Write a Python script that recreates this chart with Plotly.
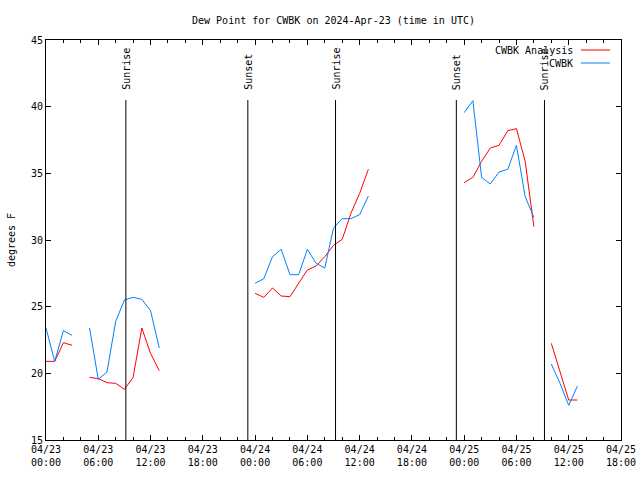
import plotly.graph_objects as go
import pandas as pd

# ---- data (hourly, hours since 2024-04-23 00:00 UTC) ----
hours = list(range(62))
analysis = [20.9, 20.9, 22.3, 22.1, None, 19.7, 19.6, 19.3, 19.25, 18.8,
            19.7, 23.4, 21.5, 20.2, None, None, None, None, None, None,
            None, None, None, None, 26.0, 25.7, 26.4, 25.8, 25.75, 26.8,
            27.75, 28.05, 28.75, 29.6, 30.05, 32.0, 33.5, 35.3, None, None,
            None, None, None, None, None, None, None, None, 34.3, 34.7,
            35.9, 36.9, 37.1, 38.2, 38.35, 35.9, 31.0, None, 22.25, 20.1,
            18.0, 18.0]
observed = [23.4, 20.9, 23.2, 22.85, None, 23.4, 19.55, 20.1, 23.9, 25.5,
            25.7, 25.55, 24.7, 21.9, None, None, None, None, None, None,
            None, None, None, None, 26.75, 27.1, 28.75, 29.3, 27.4, 27.4,
            29.3, 28.25, 27.9, 30.9, 31.6, 31.6, 31.9, 33.3, None, None,
            None, None, None, None, None, None, None, None, 39.55, 40.45,
            34.7, 34.2, 35.1, 35.3, 37.1, 33.25, 31.7, None, 20.7, 19.25,
            17.6, 19.05]
series_names = ["CWBK Analysis", "CWBK"]
series_colors = ["#ff0000", "#0080ff"]

sun_times = ["2024-04-23 09:10", "2024-04-23 23:10", "2024-04-24 09:14",
             "2024-04-24 23:06", "2024-04-25 09:13"]
sun_labels = ["Sunrise", "Sunset", "Sunrise", "Sunset", "Sunrise"]

tick_times = pd.date_range("2024-04-23 00:00", "2024-04-25 18:00", freq="6h")
tick_text = [t.strftime("%m/%d<br>%H:%M") for t in tick_times]
y_ticks = [15, 20, 25, 30, 35, 40, 45]

base = pd.Timestamp("2024-04-23 00:00")
times = [base + pd.Timedelta(hours=h) for h in hours]

FONT = "DejaVu Sans Mono"

fig = go.Figure()
for vals, name, col in zip([analysis, observed], series_names, series_colors):
    fig.add_trace(go.Scatter(x=times, y=vals, mode="lines", name=name,
                             line=dict(color=col, width=1), connectgaps=False,
                             showlegend=False))

for t, lab in zip(sun_times, sun_labels):
    fig.add_shape(type="line", xref="x", yref="y", x0=t, x1=t, y0=15, y1=40.5,
                  line=dict(color="black", width=1))
    fig.add_annotation(x=t, xref="x", y=0.87, yref="paper", text=lab,
                       textangle=-90, showarrow=False, xanchor="center",
                       yanchor="bottom", font=dict(family=FONT, size=10, color="black"))

# custom legend (text right, sample line on the right)
leg_y = [0.975, 0.9425]
for name, col, ly in zip(series_names, series_colors, leg_y):
    fig.add_annotation(x=0.92, xref="paper", y=ly, yref="paper", text=name,
                       showarrow=False, xanchor="right", yanchor="middle",
                       font=dict(family=FONT, size=10, color="black"))
    fig.add_shape(type="line", xref="paper", yref="paper", x0=0.9304, x1=0.9809,
                  y0=ly, y1=ly, line=dict(color=col, width=1))

fig.update_layout(
    template="none",
    width=640, height=480, autosize=False,
    margin=dict(l=46, r=19, t=40, b=40),
    paper_bgcolor="white", plot_bgcolor="white",
    font=dict(family=FONT, size=10, color="black"),
    title=dict(text="Dew Point for CWBK on 2024-Apr-23 (time in UTC)",
               x=0.5, xref="paper", y=0.958, yanchor="middle",
               font=dict(family=FONT, size=10, color="black")),
    showlegend=False,
)
fig.update_xaxes(
    type="date", range=[tick_times[0], tick_times[-1]], automargin=False,
    tickmode="array", tickvals=tick_times, ticktext=tick_text,
    ticks="inside", ticklen=5, tickcolor="black", mirror="allticks",
    showline=True, linecolor="black", linewidth=1, showgrid=False, zeroline=False,
    minor=dict(ticks="inside", ticklen=3, dtick=2 * 3600 * 1000, tickcolor="black",
               showgrid=False),
    tickfont=dict(family=FONT, size=10),
)
fig.update_yaxes(
    range=[15, 45], tickmode="array", tickvals=y_ticks, automargin=False,
    ticks="inside", ticklen=5, tickcolor="black", mirror="allticks",
    showline=True, linecolor="black", linewidth=1, showgrid=False, zeroline=False,
    title=dict(text="degrees F", font=dict(family=FONT, size=10), standoff=13),
    tickfont=dict(family=FONT, size=10),
)

fig.write_html(
    "out.html",
    config={"displayModeBar": False, "responsive": False},
    post_script=("document.body.style.margin='0';document.body.style.padding='0';"
                 "document.body.style.overflow='hidden';"
                 "Plotly.relayout('{plot_id}', {width: 640, height: 480});"),
)
